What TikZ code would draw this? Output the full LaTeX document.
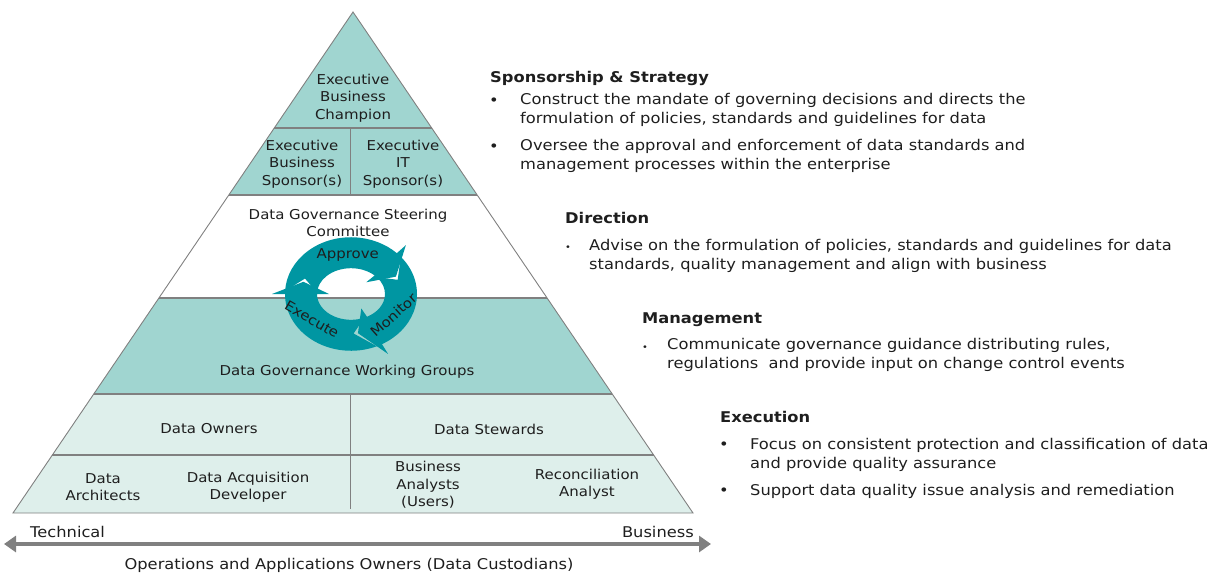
\documentclass[tikz,border=0pt]{standalone}
\usepackage{fontspec}
\setmainfont[FakeStretch=1.1]{DejaVu Sans}
\usetikzlibrary{arrows.meta}
\definecolor{tealdark}{RGB}{0,150,162}
\definecolor{teallight}{RGB}{160,213,208}
\definecolor{tealpale}{RGB}{222,239,235}
\definecolor{edgegray}{RGB}{128,128,128}
\definecolor{txt}{RGB}{30,30,30}
\tikzset{
  lbl/.style={align=center, inner sep=0pt, text=txt, font=\fontsize{13.6}{17.5}\selectfont},
  bigl/.style={inner sep=0pt, text=txt, font=\fontsize{14.8}{18}\selectfont},
  headtxt/.style={anchor=base west, inner sep=0pt, text=txt, font=\fontsize{14.8}{18}\selectfont\bfseries},
  btxt/.style={anchor=base west, inner sep=0pt, align=left, text=txt, font=\fontsize{14.8}{18.5}\selectfont},
  bul/.style={anchor=base, inner sep=0pt, text=txt, font=\fontsize{14.8}{18}\selectfont},
  sbul/.style={anchor=base, inner sep=0pt, text=txt, font=\fontsize{9}{18}\selectfont},
  outline/.style={draw=edgegray, line width=0.9pt},
  divline/.style={draw=edgegray, line width=1.4pt},
  cyc/.style={fill=tealdark},
}
\begin{document}
\begin{tikzpicture}[x=1pt,y=-1pt]
\useasboundingbox (0,0) rectangle (1211,574);
% coordinates of the pyramid
\coordinate (apex) at (353,12);
\coordinate (l128) at (274.3,128); \coordinate (r128) at (431.7,128);
\coordinate (l195) at (228.8,195); \coordinate (r195) at (477.2,195);
\coordinate (l298) at (158.9,298); \coordinate (r298) at (547.1,298);
\coordinate (l394) at (93.8,394);  \coordinate (r394) at (612.2,394);
\coordinate (l455) at (52.4,455);  \coordinate (r455) at (653.6,455);
\coordinate (bl) at (13,513);      \coordinate (br) at (693,513);
% fills
\fill[teallight] (apex) -- (r195) -- (l195) -- cycle;
\fill[teallight] (l298) -- (r298) -- (r394) -- (l394) -- cycle;
\fill[tealpale] (l394) -- (r394) -- (br) -- (bl) -- cycle;
% lines
\draw[outline] (apex) -- (br) -- (bl) -- cycle;
\draw[divline] (l128) -- (r128);
\draw[divline] (l195) -- (r195);
\draw[divline] (l298) -- (r298);
\draw[divline] (l394) -- (r394);
\draw[divline] (l455) -- (r455);
\coordinate (v1t) at (350,128); \coordinate (v1b) at (350,195);
\coordinate (v2t) at (350,394); \coordinate (v2b) at (350,509);
\draw[outline] (v1t) -- (v1b);
\draw[outline] (v2t) -- (v2b);
% cycle arrows
\begin{scope}[shift={(351,294)}, x=1pt, y=1pt, yscale=0.86]
  \fill[cyc] (177:66) arc[start angle=177, end angle=46, radius=66] -- (46:79) -- (26:50 and 46) -- (46:22 and 19) -- (46:34 and 30)
     arc[start angle=46, end angle=177, x radius=34, y radius=30] -- (157:50 and 46) -- cycle;
  \fill[cyc] (41:66) arc[start angle=41, end angle=-62, radius=66] -- (-62:79) -- (-82:50 and 46) -- (-62:22 and 19) -- (-62:34 and 30)
     arc[start angle=-62, end angle=41, x radius=34, y radius=30] -- (21:50 and 46) -- cycle;
  \fill[cyc] (-67:66) arc[start angle=-67, end angle=-180, radius=66] -- (-180:79) -- (-198:50 and 46) -- (-180:22 and 19) -- (-180:34 and 30)
     arc[start angle=-180, end angle=-67, x radius=34, y radius=30] -- (-87:50 and 46) -- cycle;
  \node[lbl] (approve) at (94:46) {Approve};
  \node[lbl, rotate=42] (monitor) at (-30:49) {Monitor};
  \node[lbl, rotate=-30] (execute) at (-143:49) {Execute};
\end{scope}
% pyramid labels
\node[lbl] (champ) at (353,98) {Executive\\Business\\Champion};
\node[lbl] (sponsb) at (302,164) {Executive\\Business\\Sponsor(s)};
\node[lbl] (sponsit) at (403,164) {Executive\\IT\\Sponsor(s)};
\node[lbl] (steer) at (348,223) {Data Governance Steering\\Committee};
\node[lbl] (wg) at (347,372) {Data Governance Working Groups};
\node[lbl] (owners) at (209,429) {Data Owners};
\node[lbl] (stewards) at (489,429) {Data Stewards};
\node[lbl] (arch) at (103,487) {Data\\Architects};
\node[lbl] (acq) at (248,487) {Data Acquisition\\Developer};
\node[lbl] (ba) at (428,485) {Business\\Analysts\\(Users)};
\node[lbl] (recon) at (587,484) {Reconciliation\\Analyst};
% bottom axis
\node[bigl, anchor=west] (tech) at (30,532) {Technical};
\node[bigl, anchor=east] (bus) at (694,532) {Business};
\coordinate (arrL) at (4,544);
\coordinate (arrR) at (711,544);
\draw[edgegray, line width=4.5pt, {Triangle[length=12pt,width=16pt]}-{Triangle[length=12pt,width=16pt]}] (arrL) -- (arrR);
\node[bigl] (ops) at (349,565) {Operations and Applications Owners (Data Custodians)};
% right text (btxt base anchor = baseline of last line)
\node[headtxt] (h1) at (490,82) {Sponsorship \& Strategy};
\node[bul] (b11) at (494,105) {\textbullet};
\node[btxt] (t11) at (520,123) {Construct the mandate of governing decisions and directs the\\formulation of policies, standards and guidelines for data};
\node[bul] (b12) at (494,151) {\textbullet};
\node[btxt] (t12) at (520,169) {Oversee the approval and enforcement of data standards and\\management processes within the enterprise};
\node[headtxt] (h2) at (565,223) {Direction};
\node[sbul] (b21) at (568,250) {\textbullet};
\node[btxt] (t21) at (589,269) {Advise on the formulation of policies, standards and guidelines for data\\standards, quality management and align with business};
\node[headtxt] (h3) at (642,323) {Management};
\node[sbul] (b31) at (645,350) {\textbullet};
\node[btxt] (t31) at (667,368) {Communicate governance guidance distributing rules,\\regulations\ \ and provide input on change control events};
\node[headtxt] (h4) at (720,422) {Execution};
\node[bul] (b41) at (724,449) {\textbullet};
\node[btxt] (t41) at (750,468) {Focus on consistent protection and classification of data\\and provide quality assurance};
\node[bul] (b42) at (724,495) {\textbullet};
\node[btxt] (t42) at (750,495) {Support data quality issue analysis and remediation};
\end{tikzpicture}
\end{document}
